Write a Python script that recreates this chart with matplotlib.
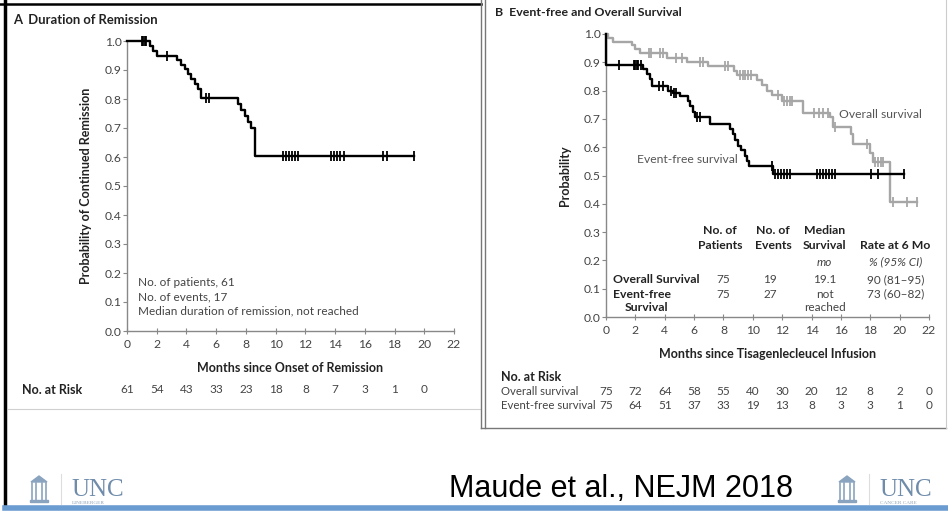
import numpy as np
import matplotlib
matplotlib.use('Agg')
import matplotlib.pyplot as plt
from matplotlib.patches import Rectangle, Polygon

plt.rcParams['font.family'] = ['Lato', 'DejaVu Sans']

# Panel A - duration of remission
timesA = [0, 1.55, 1.75, 2.0, 3.35, 3.6, 3.9, 4.1, 4.3, 4.6, 4.8, 5.0,
          7.45, 7.7, 7.95, 8.15, 8.35, 8.6, 19.3]
survA = [1.0, 0.984, 0.967, 0.95, 0.934, 0.918, 0.902, 0.885, 0.868, 0.852,
         0.835, 0.803, 0.783, 0.762, 0.741, 0.721, 0.70, 0.605, 0.605]
censA = [1.0, 1.1, 1.2, 1.3, 2.7, 5.3, 5.55, 10.5, 10.7, 10.9, 11.1, 11.3,
         11.5, 13.7, 13.9, 14.1, 14.3, 14.6, 17.2, 17.5, 19.3]
riskA = [61, 54, 43, 33, 23, 18, 8, 7, 3, 1, 0]

# Panel B - event-free survival (black)
timesEFS = [0, 0.02, 2.55, 2.8, 3.0, 3.15, 4.2, 4.55, 5.05, 5.6, 5.75, 5.9,
            6.05, 7.1, 8.45, 8.65, 8.8, 9.0, 9.2, 9.45, 9.6, 9.75, 11.4, 20.3]
survEFS = [1.0, 0.89, 0.875, 0.86, 0.84, 0.815, 0.80, 0.79, 0.78, 0.765,
           0.745, 0.725, 0.705, 0.683, 0.665, 0.645, 0.625, 0.605, 0.59,
           0.57, 0.553, 0.535, 0.505, 0.505]
censEFS = [0.9, 1.9, 2.0, 2.1, 2.2, 2.35, 3.6, 3.9, 4.4, 4.6, 4.8, 6.2, 6.4,
           11.3, 11.5, 11.7, 11.9, 12.1, 12.3, 12.5, 14.4, 14.6, 14.8, 15.0,
           15.2, 15.4, 15.6, 18.05, 18.5, 20.3]

# Panel B - overall survival (gray)
timesOS = [0, 0.15, 0.5, 1.75, 2.0, 2.3, 4.15, 5.5, 6.95, 8.7, 8.9, 10.3,
           10.6, 10.95, 11.3, 12.0, 13.4, 15.25, 15.45, 16.7, 16.8, 18.0,
           18.2, 19.35, 21.2]
survOS = [1.0, 0.987, 0.973, 0.96, 0.947, 0.934, 0.915, 0.90, 0.887, 0.871,
          0.856, 0.838, 0.82, 0.80, 0.784, 0.762, 0.722, 0.705, 0.672, 0.645,
          0.611, 0.58, 0.549, 0.407, 0.407]
censOS = [2.9, 3.05, 3.7, 3.85, 4.8, 5.2, 6.4, 6.6, 8.1, 8.3, 9.1, 9.3, 9.5,
          9.7, 9.9, 11.7, 12.1, 12.3, 12.5, 12.7, 14.2, 14.5, 14.8, 15.1,
          15.6, 17.8, 18.3, 18.5, 18.7, 18.9, 19.55, 20.5, 21.2]
riskOS = [75, 72, 64, 58, 55, 40, 30, 20, 12, 8, 2, 0]
riskEFS = [75, 64, 51, 37, 33, 19, 13, 8, 3, 3, 1, 0]

riskTicks = list(range(0, 24, 2))

W, H = 948, 518
fig = plt.figure(figsize=(W / 100, H / 100), dpi=100)

# slide decoration in pixel coordinates
bg = fig.add_axes([0, 0, 1, 1], zorder=-1)
bg.set_xlim(0, W)
bg.set_ylim(H, 0)
bg.axis('off')
bg.plot([0, 481], [4, 4], color='black', lw=1.8)
bg.plot([5, 5], [0, 506], color='black', lw=2.5)
bg.plot([8, 480], [409, 409], color='#d0d0d0', lw=0.8)
bg.plot([481, 481], [0, 428], color='#777777', lw=1.0)
bg.plot([485, 485], [0, 428], color='#777777', lw=1.0)
bg.plot([481, 946], [428, 428], color='#777777', lw=1.0)
bg.plot([946, 946], [0, 428], color='#cccccc', lw=0.8)
bg.plot([5, W], [508, 508], color='#6a9bd1', lw=4)

def logo(x0, sub):
    c = '#8aa4bf'
    bg.add_patch(Polygon([[x0, 482], [x0 + 8, 476], [x0 + 16, 482]], closed=True,
                         fc=c, ec=c))
    for dx in [1, 5, 11, 15]:
        bg.plot([x0 + dx, x0 + dx], [483, 500], color=c, lw=1.2)
    bg.add_patch(Rectangle((x0 - 1, 500), 18, 2, fc=c, ec=c))
    bg.plot([x0 + 30, x0 + 30], [474, 504], color='#dddddd', lw=0.8)
    bg.text(x0 + 40, 490, 'UNC', family='Liberation Serif', fontsize=18, color='#6f8cab',
            va='center', ha='left')
    bg.text(x0 + 41, 503, sub, family='Liberation Serif', fontsize=3.8, color='#8ea3b8',
            va='center', ha='left')

logo(31, 'LINEBERGER')
logo(839, 'CANCER CARE')
bg.text(621, 489, 'Maude et al., NEJM 2018', family='Liberation Sans',
        fontsize=22, color='black', ha='center', va='center')

def style(ax):
    ax.set_xlim(0, 22)
    ax.set_ylim(0, 1.0)
    ax.set_xticks(range(0, 24, 2))
    ax.set_yticks(np.arange(0, 1.01, 0.1))
    ax.set_yticklabels(['%.1f' % v for v in np.arange(0, 1.01, 0.1)])
    for s in ['top', 'right']:
        ax.spines[s].set_visible(False)
    for s in ['left', 'bottom']:
        ax.spines[s].set_color('#888888')
        ax.spines[s].set_linewidth(1.0)
    ax.tick_params(axis='y', direction='out', length=3, color='#888888',
                   labelsize=8.7, labelcolor='#444444', pad=1)
    ax.tick_params(axis='x', direction='inout', length=5, color='#888888',
                   labelsize=8.7, labelcolor='#444444', pad=3)
    ax.patch.set_alpha(0)

def km(ax, t, s, cens, color):
    ax.step(t, s, where='post', color=color, lw=1.7, clip_on=False, zorder=3)
    idx = np.searchsorted(t, cens, side='right') - 1
    cy = np.array(s)[idx]
    ax.plot(cens, cy, ls='none', marker='|', ms=7.5, mew=1.3, color=color,
            clip_on=False, zorder=3)

# ---- Panel A
axA = fig.add_axes([127 / W, 1 - 331 / H, 327 / W, 290 / H])
style(axA)
km(axA, timesA, survA, censA, 'black')
axA.set_xlabel('Months since Onset of Remission', fontsize=9, fontweight='bold',
               color='#222222', labelpad=9)
axA.set_ylabel('Probability of Continued Remission', fontsize=9, fontweight='bold',
               color='#222222', labelpad=9)
for i, line in enumerate(['No. of patients, 61', 'No. of events, 17',
                          'Median duration of remission, not reached']):
    axA.text(0.74, 0.166 - 0.049 * i, line, fontsize=8.5, color='#444444', va='center')
fig.text(13 / W, 1 - 20 / H, 'A  Duration of Remission', fontsize=9.4,
         fontweight='bold', color='#222222', va='center')
trA = axA.get_xaxis_transform()
axA.text(-0.321, -0.203, 'No. at Risk', transform=axA.transAxes, fontsize=9,
         fontweight='bold', color='#222222', va='center')
for x, n in zip(riskTicks, riskA):
    axA.text(x, -0.203, str(n), transform=trA, fontsize=8.5, color='#444444',
             ha='center', va='center')

# ---- Panel B
axB = fig.add_axes([606 / W, 1 - 317 / H, 323 / W, 283 / H])
style(axB)
km(axB, timesOS, survOS, censOS, '#a6a6a6')
km(axB, timesEFS, survEFS, censEFS, 'black')
axB.set_xlabel('Months since Tisagenlecleucel Infusion', fontsize=9, fontweight='bold',
               color='#222222', labelpad=9)
axB.set_ylabel('Probability', fontsize=9, fontweight='bold', color='#222222', labelpad=9)
axB.text(15.9, 0.714, 'Overall survival', fontsize=8.7, color='#555555', va='center')
axB.text(9.0, 0.555, 'Event-free survival', fontsize=8.7, color='#555555',
         va='center', ha='right')
fig.text(495 / W, 1 - 13 / H, 'B  Event-free and Overall Survival', fontsize=8.9,
         fontweight='bold', color='#222222', va='center')

# summary table
hdr = dict(fontsize=8.8, fontweight='bold', color='#222222', ha='center', va='center')
val = dict(fontsize=8.5, color='#444444', ha='center', va='center')
axB.text(7.77, 0.307, 'No. of', **hdr)
axB.text(7.77, 0.254, 'Patients', **hdr)
axB.text(11.4, 0.307, 'No. of', **hdr)
axB.text(11.4, 0.254, 'Events', **hdr)
axB.text(14.9, 0.307, 'Median', **hdr)
axB.text(14.9, 0.254, 'Survival', **hdr)
axB.text(19.7, 0.254, 'Rate at 6 Mo', **hdr)
axB.text(14.9, 0.194, 'mo', style='italic', **val)
axB.text(19.7, 0.194, '% (95% CI)', style='italic', **val)
lab = dict(fontsize=8.8, fontweight='bold', color='#222222', ha='left', va='center')
axB.text(0.48, 0.131, 'Overall Survival', **lab)
axB.text(0.48, 0.081, 'Event-free', **lab)
axB.text(1.3, 0.032, 'Survival', **lab)
axB.text(8.0, 0.131, '75', **val)
axB.text(11.2, 0.131, '19', **val)
axB.text(14.9, 0.131, '19.1', **val)
axB.text(19.7, 0.131, '90 (81–95)', **val)
axB.text(8.0, 0.081, '75', **val)
axB.text(11.2, 0.081, '27', **val)
axB.text(14.9, 0.081, 'not', **val)
axB.text(14.9, 0.032, 'reached', **val)
axB.text(19.7, 0.081, '73 (60–82)', **val)

trB = axB.get_xaxis_transform()
axB.text(-0.325, -0.212, 'No. at Risk', transform=axB.transAxes, fontsize=9,
         fontweight='bold', color='#222222', va='center')
axB.text(-0.325, -0.265, 'Overall survival', transform=axB.transAxes, fontsize=8.2,
         color='#444444', va='center')
axB.text(-0.325, -0.314, 'Event-free survival', transform=axB.transAxes, fontsize=8.2,
         color='#444444', va='center')
for x, n1, n2 in zip(riskTicks, riskOS, riskEFS):
    axB.text(x, -0.265, str(n1), transform=trB, fontsize=8.5, color='#444444',
             ha='center', va='center')
    axB.text(x, -0.314, str(n2), transform=trB, fontsize=8.5, color='#444444',
             ha='center', va='center')

fig.savefig('out.png', dpi=100)
